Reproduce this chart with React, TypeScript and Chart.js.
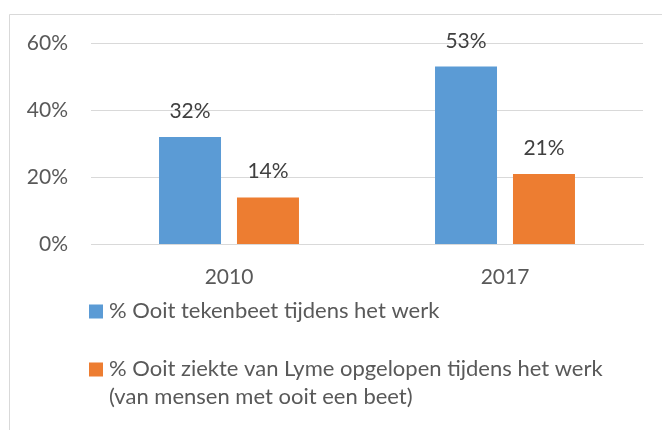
import React, { useEffect, useRef } from "react";
import { Chart, registerables } from "chart.js";

Chart.register(...registerables);

const categories = ["2010", "2017"];
const seriesNames = [
  ["% Ooit tekenbeet tijdens het werk"],
  ["% Ooit ziekte van Lyme opgelopen tijdens het werk", "(van mensen met ooit een beet)"],
];
const tekenbeet = [32, 53];
const lyme = [14, 21];
const colors = ["#5B9BD5", "#ED7D31"];
const yTicks = [0, 20, 40, 60];

const FONT = "Lato, 'Open Sans', sans-serif";
const FS = 21;
const LEGEND_FS = 22;

const framePlugin = {
  id: "frame",
  beforeDraw(chart: any) {
    const ctx = chart.ctx;
    ctx.save();
    ctx.fillStyle = "#ffffff";
    ctx.fillRect(0, 0, chart.width, chart.height);
    ctx.strokeStyle = "#d9d9d9";
    ctx.lineWidth = 1;
    ctx.beginPath();
    ctx.moveTo(9.5, chart.height);
    ctx.lineTo(9.5, 14.5);
    ctx.lineTo(chart.width, 14.5);
    ctx.stroke();
    ctx.restore();
  },
};

const labelPlugin = {
  id: "valueLabels",
  afterDatasetsDraw(chart: any) {
    const ctx = chart.ctx;
    ctx.save();
    ctx.font = `${FS}px ${FONT}`;
    ctx.fillStyle = "#404040";
    ctx.textAlign = "center";
    ctx.textBaseline = "alphabetic";
    chart.data.datasets.forEach((ds: any, i: number) => {
      const meta = chart.getDatasetMeta(i);
      meta.data.forEach((bar: any, j: number) => {
        ctx.fillText(ds.data[j] + "%", bar.x, bar.y - 19);
      });
    });
    ctx.restore();
  },
};

const legendPlugin = {
  id: "customLegend",
  afterDraw(chart: any) {
    const ctx = chart.ctx;
    const area = chart.chartArea;
    ctx.save();
    ctx.font = `${LEGEND_FS}px ${FONT}`;
    ctx.textBaseline = "middle";
    ctx.textAlign = "left";
    const x0 = area.left - 2;
    const itemTops = [area.bottom + 60, area.bottom + 118];
    const lineH = 28;
    chart.data.datasets.forEach((ds: any, i: number) => {
      const top = itemTops[i];
      ctx.fillStyle = ds.backgroundColor;
      ctx.fillRect(x0, top, 14, 14);
      ctx.fillStyle = "#595959";
      seriesNames[i].forEach((line: string, k: number) => {
        ctx.fillText(line, x0 + 20, top + 6 + k * lineH);
      });
    });
    ctx.restore();
  },
};

export default function App() {
  const ref = useRef<HTMLCanvasElement>(null);
  useEffect(() => {
    const chart = new Chart(ref.current!, {
      type: "bar",
      data: {
        labels: categories,
        datasets: [
          { label: seriesNames[0].join(" "), data: tekenbeet, backgroundColor: colors[0] },
          { label: seriesNames[1].join(" "), data: lyme, backgroundColor: colors[1] },
        ],
      },
      options: {
        animation: false,
        responsive: false,
        devicePixelRatio: 1,
        layout: { padding: { top: 43, left: 0, right: 19, bottom: 125.5 } },
        datasets: {
          bar: { categoryPercentage: 0.565, barPercentage: 0.795 },
        },
        plugins: {
          legend: { display: false },
          tooltip: { enabled: false },
        },
        scales: {
          x: {
            grid: { display: false },
            border: { display: true, color: "#d9d9d9", width: 1 },
            ticks: { color: "#595959", font: { family: FONT, size: FS }, padding: 12 },
            afterFit: (s: any) => { s.height = 60; },
          },
          y: {
            min: 0,
            max: 60,
            afterBuildTicks: (s: any) => { s.ticks = yTicks.map((v) => ({ value: v })); },
            grid: { color: "#d9d9d9", lineWidth: 1, drawTicks: false },
            border: { display: false },
            ticks: {
              color: "#595959",
              font: { family: FONT, size: FS },
              padding: 23,
              callback: (v: any) => v + "%",
            },
            afterFit: (s: any) => { s.width = 91; },
          },
        },
      },
      plugins: [framePlugin, labelPlugin, legendPlugin],
    });
    return () => chart.destroy();
  }, []);
  return (
    <div style={{ position: "fixed", left: 0, top: 0, width: 662, height: 430 }}>
      <canvas ref={ref} width={662} height={430} />
    </div>
  );
}
